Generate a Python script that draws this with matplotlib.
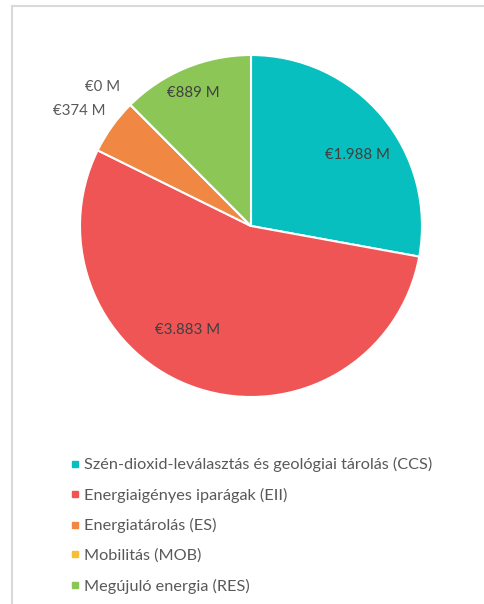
import numpy as np
import matplotlib.pyplot as plt
from matplotlib.patches import Rectangle
from matplotlib.lines import Line2D

plt.rcParams['font.family'] = ['Lato', 'DejaVu Sans']

# data
categories = ['Szén-dioxid-leválasztás és geológiai tárolás (CCS)',
              'Energiaigényes iparágak (EII)',
              'Energiatárolás (ES)',
              'Mobilitás (MOB)',
              'Megújuló energia (RES)']
values = [1988, 3883, 374, 0, 889]  # million EUR
value_labels = ['€1.988 M', '€3.883 M', '€374 M', '€0 M', '€889 M']

colors = ['#07BFBF', '#EF5555', '#F08743', '#F5C033', '#8BC657']
# label distance (fraction of radius) and angle nudge in degrees, roughly like excel's best fit
lab_dist = [0.75, 0.71, 1.21, 1.19, 0.85]
lab_nudge = [-6, -13, 2, 2, 1]
lab_colors = ['#404040', '#404040', '#595959', '#595959', '#404040']

W, H = 485, 604
fig = plt.figure(figsize=(W / 100, H / 100), dpi=100)

# grey chart frame (clipped on right/bottom like the screenshot)
fig.patches.append(Rectangle((12 / W, -0.1), 1.2, 1 - 6 / H + 0.1, transform=fig.transFigure,
                             fill=False, edgecolor='#D9D9D9', lw=1.5, zorder=0))

cx, cy, R = 251, 226, 171
ax = fig.add_axes([(cx - R) / W, 1 - (cy + R) / H, 2 * R / W, 2 * R / H])
wedges, _ = ax.pie(values, colors=colors, startangle=90, counterclock=False,
                   wedgeprops=dict(edgecolor='white', linewidth=1.5))
ax.set_xlim(-1, 1)
ax.set_ylim(-1, 1)
ax.set_aspect('equal')

for w, txt, d, nd, c in zip(wedges, value_labels, lab_dist, lab_nudge, lab_colors):
    mid = np.deg2rad((w.theta1 + w.theta2) / 2 + nd)
    ax.text(d * np.cos(mid), d * np.sin(mid), txt, ha='center', va='center',
            fontsize=10.8, color=c, clip_on=False)

handles = [Line2D([], [], marker='s', linestyle='none', markersize=5,
                  markerfacecolor=c, markeredgecolor=c) for c in colors]
fig.legend(handles, categories, loc='upper left', bbox_to_anchor=(62 / W, 1 - 449 / H),
           frameon=False, fontsize=11.7, labelcolor='#595959', handlelength=0.55,
           handletextpad=0.3, labelspacing=0.95, borderpad=0)

fig.savefig('out.png', dpi=100)
